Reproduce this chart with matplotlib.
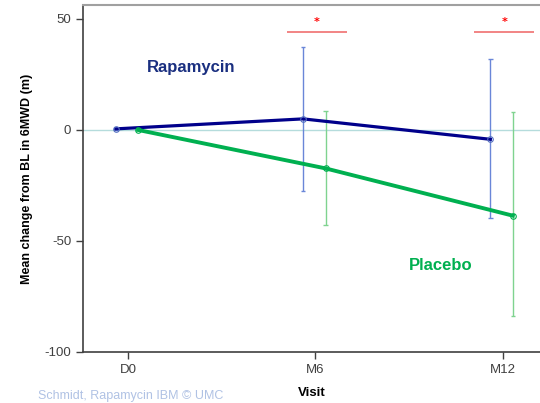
import matplotlib
matplotlib.use("Agg")
import matplotlib.pyplot as plt
import numpy as np

plt.rcParams["axes.unicode_minus"] = False

# Data
visits = ["D0", "M6", "M12"]
rapa_mean = [0.5, 5.0, -4.2]
rapa_lo = [0.0, -27.3, -39.8]
rapa_hi = [1.0, 37.5, 32.0]
plac_mean = [0.0, -17.3, -38.6]
plac_lo = [0.0, -42.8, -84.0]
plac_hi = [0.0, 8.5, 8.0]
sig_visits = [1, 2]          # visits marked with a significance star

NAVY = "#00008b"
GREEN = "#00b050"
BLUE_ERR = "#6a86d8"
GREEN_ERR = "#7fd38f"

x = np.arange(len(visits))
dx_r, dx_p = -0.065, 0.055

fig = plt.figure(figsize=(5.4, 4.03), dpi=100)
ax = fig.add_axes([0.1537, 0.1266, 0.8463, 0.861])

ax.axhline(0, color="#b5dcdc", lw=1, zorder=1)

xr = x + dx_r
xp = x + dx_p
ax.vlines(xr, rapa_lo, rapa_hi, color=BLUE_ERR, lw=1, zorder=2)
ax.hlines(rapa_lo + rapa_hi, np.concatenate([xr, xr]) - 0.012,
          np.concatenate([xr, xr]) + 0.012, color=BLUE_ERR, lw=1, zorder=2)
ax.vlines(xp, plac_lo, plac_hi, color=GREEN_ERR, lw=1, zorder=2)
ax.hlines(plac_lo + plac_hi, np.concatenate([xp, xp]) - 0.012,
          np.concatenate([xp, xp]) + 0.012, color=GREEN_ERR, lw=1, zorder=2)

ax.plot(xr, rapa_mean, color=NAVY, lw=2.3, zorder=3)
ax.plot(xp, plac_mean, color=GREEN, lw=2.8, zorder=3)
ax.plot(xr, rapa_mean, "o", ms=4, mfc="none", mec="#5570c0", mew=0.8, zorder=4)
ax.plot(xp, plac_mean, "o", ms=4, mfc="none", mec=GREEN, mew=0.8, zorder=4)

# significance markers
for v in sig_visits:
    ax.hlines(44.3, v - 0.15, v + 0.17, color="#f07070", lw=1.2)
    ax.text(v + 0.01, 48.5, "*", color="red", fontsize=8, ha="center", va="center",
            fontweight="bold")

ax.text(0.1, 28, "Rapamycin", color="#1a2f80", fontsize=12, fontweight="bold",
        family="Liberation Sans", va="center")
ax.text(1.5, -61, "Placebo", color=GREEN, fontsize=12, fontweight="bold",
        family="Liberation Sans", va="center")

ax.set_xlim(-0.24, 2.2)
ax.set_ylim(-100, 56.3)
ax.set_xticks(x)
ax.set_xticklabels(visits)
ax.set_yticks([-100, -50, 0, 50])
ax.tick_params(direction="out", length=5, width=1, color="#404040",
               labelsize=9.5, labelcolor="#404040")
for lab in ax.get_xticklabels() + ax.get_yticklabels():
    lab.set_family("Liberation Sans")

for s in ["left", "bottom"]:
    ax.spines[s].set_color("#404040")
    ax.spines[s].set_linewidth(1.2)
ax.spines["top"].set_color("#a0a0a0")
ax.spines["top"].set_linewidth(1.5)
ax.spines["right"].set_visible(False)

ax.set_ylabel("Mean change from BL in 6MWD (m)", fontsize=9, fontweight="bold",
              family="Liberation Sans", labelpad=8)
ax.set_xlabel("Visit", fontsize=9.5, fontweight="bold", family="Liberation Sans",
              labelpad=8)

fig.text(0.07, 0.002, "Schmidt, Rapamycin IBM \u00a9 UMC", color="#b0c2e4",
         fontsize=9, family="Liberation Sans", va="bottom")

fig.savefig("out.png", dpi=100)
